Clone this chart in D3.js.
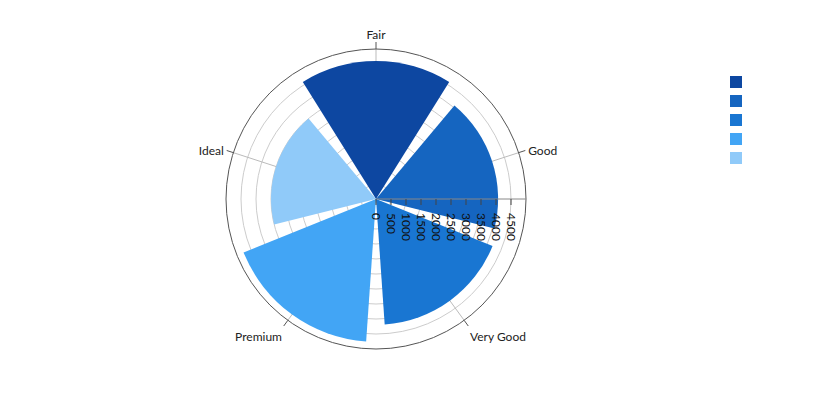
<!DOCTYPE html>
<html>
<head>
<meta charset="utf-8">
<script src="https://cdn.jsdelivr.net/npm/d3@7"></script>
<style>
  body { margin: 0; background: #fff; }
  svg { display: block; font-family: "Segoe UI", Lato, "Noto Sans", sans-serif; }
</style>
</head>
<body>
<svg id="chart" width="830" height="400"></svg>
<script>
const categories = ['Fair', 'Good', 'Very Good', 'Premium', 'Ideal'];
const values = [4600, 4070, 4190, 4760, 3500];
const colors = ['#0D47A1', '#1565C0', '#1976D2', '#42A5F5', '#90CAF9'];
const radialTicks = [0, 500, 1000, 1500, 2000, 2500, 3000, 3500, 4000, 4500];
const radialMax = 5000;

const width = 830, height = 400;
const cx = 376, cy = 199, outer = 150;

const svg = d3.select('#chart');
const g = svg.append('g').attr('transform', `translate(${cx},${cy})`);

const r = d3.scaleLinear().domain([0, radialMax]).range([0, outer]);

const step = 2 * Math.PI / categories.length;
const angle = d3.scaleBand()
  .domain(categories)
  .range([-step / 2, 2 * Math.PI - step / 2])
  .paddingInner(0.11)
  .paddingOuter(0.055);
const mid = d => angle(d) + angle.bandwidth() / 2;

// grid circles
g.append('g')
  .selectAll('circle')
  .data(radialTicks.filter(t => t > 0))
  .join('circle')
  .attr('r', d => r(d))
  .attr('fill', 'none')
  .attr('stroke', '#ccc');

// radial grid lines at category angles
g.append('g')
  .selectAll('line')
  .data(categories)
  .join('line')
  .attr('x2', d => outer * Math.sin(mid(d)))
  .attr('y2', d => -outer * Math.cos(mid(d)))
  .attr('stroke', '#bbb');

// bars
const arc = d3.arc()
  .innerRadius(0)
  .outerRadius(d => r(d.value))
  .startAngle(d => angle(d.cat))
  .endAngle(d => angle(d.cat) + angle.bandwidth());

g.append('g')
  .selectAll('path')
  .data(categories.map((c, i) => ({ cat: c, value: values[i], color: colors[i] })))
  .join('path')
  .attr('d', arc)
  .attr('fill', d => d.color);

// outer circle
g.append('circle')
  .attr('r', outer)
  .attr('fill', 'none')
  .attr('stroke', '#555');

// angular axis ticks + labels
const ang = g.append('g').attr('font-size', 12).attr('fill', '#222');
ang.selectAll('line')
  .data(categories)
  .join('line')
  .attr('x1', d => outer * Math.sin(mid(d)))
  .attr('y1', d => -outer * Math.cos(mid(d)))
  .attr('x2', d => (outer + 7) * Math.sin(mid(d)))
  .attr('y2', d => -(outer + 7) * Math.cos(mid(d)))
  .attr('stroke', '#555');

ang.selectAll('text')
  .data(categories)
  .join('text')
  .attr('x', d => (outer + 10) * Math.sin(mid(d)))
  .attr('y', d => -(outer + 10) * Math.cos(mid(d)))
  .attr('text-anchor', d => {
    const s = Math.sin(mid(d));
    return Math.abs(s) < 0.2 ? 'middle' : (s > 0 ? 'start' : 'end');
  })
  .attr('dy', d => {
    const c = Math.cos(mid(d));
    return c > 0.5 ? '0em' : (c < -0.5 ? '1.05em' : '0.42em');
  })
  .text(d => d);

// radial axis along the right
const rad = g.append('g');
rad.append('line')
  .attr('x2', outer)
  .attr('stroke', '#888');

const tick = rad.selectAll('g.tick')
  .data(radialTicks)
  .join('g')
  .attr('class', 'tick')
  .attr('transform', d => `translate(${r(d)},0)`);
tick.append('line')
  .attr('y2', 6)
  .attr('stroke', '#444');
tick.append('text')
  .attr('transform', 'rotate(90)')
  .attr('x', 14)
  .attr('dy', '0.32em')
  .attr('font-size', 12)
  .attr('fill', '#111')
  .text(d => d);

// legend (squares only)
svg.append('g')
  .attr('transform', 'translate(730,76)')
  .selectAll('rect')
  .data(colors)
  .join('rect')
  .attr('y', (d, i) => i * 19)
  .attr('width', 12)
  .attr('height', 12)
  .attr('fill', d => d);
</script>
</body>
</html>
